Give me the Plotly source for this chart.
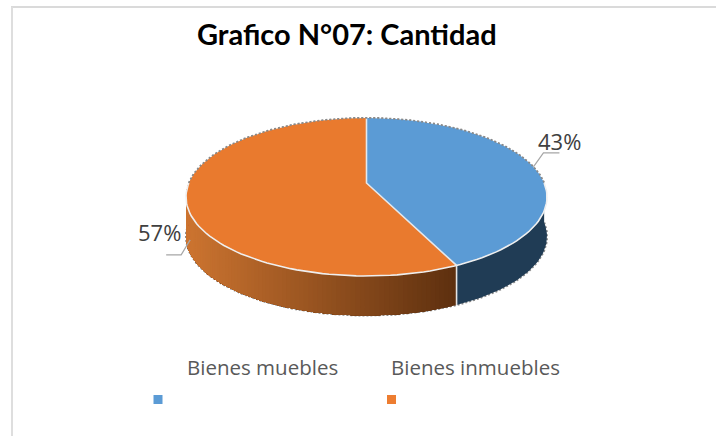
import numpy as np
import plotly.graph_objects as go

# --- data ---
title = "Grafico N°07: Cantidad"
categories = ["Bienes muebles", "Bienes inmuebles"]
values = [43, 57]
top_colors = ["#5B9BD5", "#E97A2E"]
legend_colors = ["#5B9BD5", "#ED7D31"]

# --- pie geometry (pixels) ---
CX, CY, RX, RY, DEPTH, TILT = 366.5, 197.0, 180.5, 79.0, 39.5, 0.177


def project(deg):
    """Clockwise angle from 12 o'clock on the pie -> screen position."""
    t = np.radians(deg)
    u, v = np.sin(t), -np.cos(t)
    d = 1 - TILT * v
    return CX + RX * u * np.sqrt(1 - TILT**2) / d, CY + RY * (v - TILT) / d


def mix(a, b, f):
    ca = [int(a[i:i + 2], 16) for i in (1, 3, 5)]
    cb = [int(b[i:i + 2], 16) for i in (1, 3, 5)]
    return "rgb(%d,%d,%d)" % tuple(round(x + (y - x) * f) for x, y in zip(ca, cb))


def poly(x, y, fill, line="rgba(0,0,0,0)", width=0, dash="solid"):
    return go.Scatter(x=list(x), y=list(y), mode="lines", fill="toself", fillcolor=fill,
                      line=dict(color=line, width=width, dash=dash), hoverinfo="skip",
                      showlegend=False)


total = sum(values)
shares = [v / total for v in values]
a0, a1, a2 = 0.0, 360 * shares[0], 360.0
fig = go.Figure()

# rim shadow: soft dotted halo round the whole solid
back = np.linspace(-90, 90, 100)
front = np.linspace(90, 270, 100)
bx, by = project(back)
fx, fy = project(front)
fig.add_trace(go.Scatter(x=list(fx) + [None] + list(bx), y=list(fy + DEPTH) + [None] + list(by),
                         mode="lines", line=dict(color="#8a8a8a", width=2.2, dash="2px,2px"),
                         hoverinfo="skip", showlegend=False))

# side walls: dark blue, then orange shaded strip by strip
ang = np.linspace(90, a1, 50)
x, y = project(ang)
fig.add_trace(poly(np.r_[x, x[::-1]], np.r_[y, (y + DEPTH)[::-1]], "#203C55"))

# each strip runs from its own edge all the way to the left end, so no seams show
edges = np.linspace(a1, 270, 91)
ex, ey = project(edges)
for i in range(len(edges) - 1):
    f = (ex[i] - ex[-1]) / (ex[0] - ex[-1])
    col = mix("#CC7430", "#5E300F", f)
    fig.add_trace(poly(np.r_[ex[i:], ex[i:][::-1]], np.r_[ey[i:], (ey[i:] + DEPTH)[::-1]], col))

# top faces
ccx, ccy = project(0)[0], CY - RY * TILT
for start, end, col in [(a0, a1, top_colors[0]), (a1, a2, top_colors[1])]:
    sx, sy = project(np.linspace(start, end, 180))
    fig.add_trace(poly(np.r_[ccx, sx, ccx], np.r_[ccy, sy, ccy], col))

# white seams
sx, sy = project(np.array([a1, 0.0]))
fig.add_trace(go.Scatter(x=[sx[0], ccx, sx[1]], y=[sy[0], ccy, sy[1]], mode="lines",
                         line=dict(color="#E4E8EC", width=1.6), hoverinfo="skip", showlegend=False))
fig.add_trace(go.Scatter(x=list(fx), y=list(fy), mode="lines",
                         line=dict(color="#EFEFEF", width=1.6), hoverinfo="skip", showlegend=False))
fig.add_trace(go.Scatter(x=[sx[0], sx[0]], y=[sy[0], sy[0] + DEPTH], mode="lines",
                         line=dict(color="#E4E4E4", width=1.6), hoverinfo="skip", showlegend=False))
# dotted back rim over the top faces
fig.add_trace(go.Scatter(x=list(bx), y=list(by), mode="lines",
                         line=dict(color="#8a8a8a", width=1.2, dash="2px,2px"),
                         hoverinfo="skip", showlegend=False))

# data labels with leader lines
m0x, m0y = project(360 * shares[0] / 2)
m1x, m1y = project(360 * shares[0] + 360 * shares[1] / 2)
m1y = m1y + DEPTH
leader = "#A6A6A6"
fig.add_trace(go.Scatter(x=[m0x, m0x + 10, m0x + 26], y=[m0y, m0y - 14, m0y - 14], mode="lines",
                         line=dict(color=leader, width=1.2), hoverinfo="skip", showlegend=False))
fig.add_trace(go.Scatter(x=[m1x + 4, m1x - 5, m1x - 20], y=[m1y, m1y + 15, m1y + 15], mode="lines",
                         line=dict(color=leader, width=1.2), hoverinfo="skip", showlegend=False))

# legend markers
fig.add_trace(go.Scatter(x=[158, 391.5], y=[399.5, 399.5], mode="markers",
                         marker=dict(symbol="square", size=9, color=legend_colors, line=dict(width=0)),
                         hoverinfo="skip", showlegend=False))


def label(x, y, text, size, color, family, bold=False):
    fig.add_annotation(x=x, y=y, text=f"<b>{text}</b>" if bold else text, showarrow=False,
                       xanchor="center", yanchor="middle",
                       font=dict(family=family, size=size, color=color))


label(347, 33, title, 29, "#000000", "Lato", True)
label(559, 141, f"{round(shares[0] * 100)}%", 22, "#404040", "Open Sans")
label(159, 232, f"{round(shares[1] * 100)}%", 22, "#404040", "Open Sans")
label(262.5, 367, categories[0], 20.5, "#595959", "Open Sans")
label(475.5, 367, categories[1], 20.5, "#595959", "Open Sans")

fig.update_layout(
    width=716, height=436, margin=dict(l=0, r=0, t=0, b=0),
    paper_bgcolor="white", plot_bgcolor="white", showlegend=False,
    xaxis=dict(range=[0, 716], visible=False, fixedrange=True),
    yaxis=dict(range=[436, 0], visible=False, fixedrange=True),
    shapes=[
        dict(type="line", x0=11, x1=716, y0=7, y1=7, line=dict(color="#DADADA", width=2), layer="below"),
        dict(type="line", x0=12, x1=12, y0=7, y1=436, line=dict(color="#DEDEDE", width=2), layer="below"),
    ],
)
fig.write_html("out.html", config=dict(displayModeBar=False),
               post_script="document.body.style.margin='0';document.documentElement.style.overflow='hidden';")
